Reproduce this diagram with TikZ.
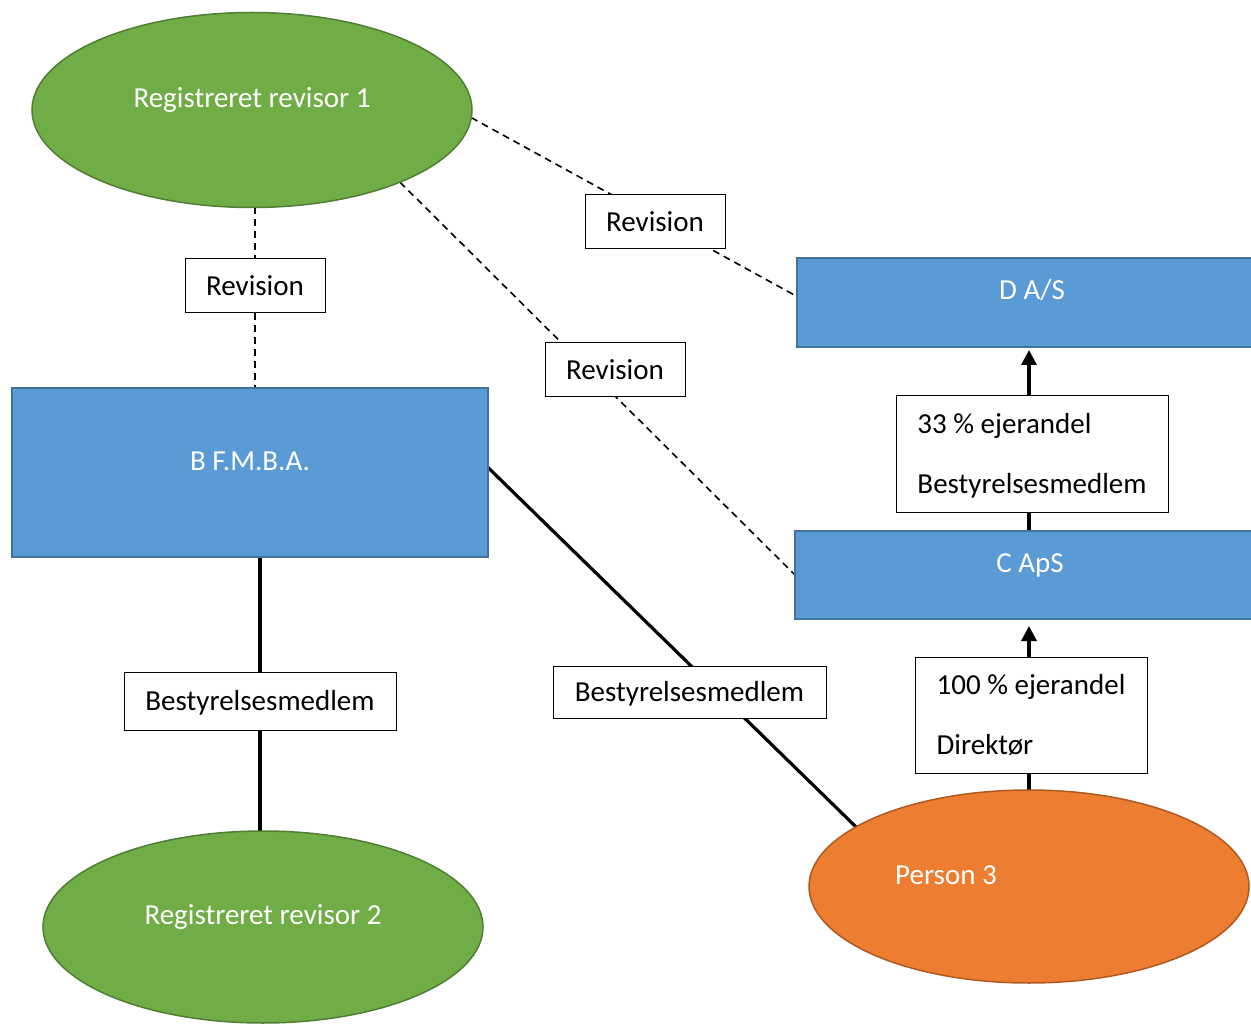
\documentclass[tikz,border=0pt]{standalone}
\usepackage{fontspec}
\setmainfont{Carlito}
\usetikzlibrary{shapes.geometric,arrows.meta}
\pgfdeclarelayer{bg}
\pgfsetlayers{bg,main}
\definecolor{gfill}{HTML}{70AD47}
\definecolor{gdraw}{HTML}{507E32}
\definecolor{bfill}{HTML}{5B9BD5}
\definecolor{bdraw}{HTML}{41719C}
\definecolor{ofill}{HTML}{ED7D31}
\definecolor{odraw}{HTML}{AE5A21}
\begin{document}
\begin{tikzpicture}[x=1pt,y=-1pt,
  base/.style={inner sep=0pt, outer sep=0pt, font=\fontsize{29pt}{35pt}\selectfont},
  shapetext/.style={text=white, text height=20pt, text depth=25pt},
  greenell/.style={base, shapetext, ellipse, draw=gdraw, fill=gfill, line width=1.5pt, minimum width=440pt},
  orangeell/.style={base, shapetext, ellipse, draw=odraw, fill=ofill, line width=1.5pt, minimum width=440pt, minimum height=193pt},
  bluebox/.style={base, shapetext, rectangle, draw=bdraw, fill=bfill, line width=1.5pt},
  labelbox/.style={base, rectangle, draw=black, fill=white, line width=1pt, text height=20pt, text depth=1pt},
  twoline/.style={labelbox, align=left, font=\fontsize{29pt}{60pt}\selectfont, text height=80pt, text depth=2pt, minimum height=116pt},
  solidline/.style={line width=3.2pt, black},
  arrowline/.style={solidline, -{Triangle[width=15pt,length=15pt]}},
  dashline/.style={line width=1.6pt, black, dash pattern=on 7pt off 5pt}
]
\useasboundingbox (0,0) rectangle (1251,1024);

% shapes
\node[greenell, minimum height=195pt] (r1) at (252,110) {Registreret revisor 1};
\node[greenell, minimum height=192pt] (r2) at (263,927) {Registreret revisor 2};
\node[orangeell] (p3) at (1029,886.5) {Person 3\hspace*{166pt}};
\node[bluebox, minimum width=476pt, minimum height=169pt] (b) at (250,472.5) {B F.M.B.A.};
\node[bluebox, minimum width=470pt, minimum height=89pt] (dd) at (1032,302.5) {D A/S};
\node[bluebox, minimum width=470pt, minimum height=88pt] (c) at (1030,575) {C ApS};

% label boxes
\node[labelbox, minimum width=140pt, minimum height=54pt] (rv1) at (255,286) {Revision};
\node[labelbox, minimum width=140pt, minimum height=54pt] (rv2) at (655,222) {Revision};
\node[labelbox, minimum width=140pt, minimum height=54pt] (rv3) at (615,370) {Revision};
\node[labelbox, minimum width=272pt, minimum height=58pt] (bl) at (260,701) {Bestyrelsesmedlem};
\node[labelbox, minimum width=273pt, minimum height=52pt] (bm) at (689.5,692) {Bestyrelsesmedlem};
\node[twoline, minimum width=272pt] (b33) at (1032,454) {33 \% ejerandel\\Bestyrelsesmedlem};
\node[twoline, minimum width=232pt] (b100) at (1031,715) {100 \% ejerandel\\Direktør};

% connectors
\begin{pgfonlayer}{bg}
  \draw[dashline] (rv1.north |- r1.south) -- (rv1.north);
  \draw[dashline] (rv1.south) -- (rv1.south |- b.north);
  \draw[dashline] (r1.-2) -- ([yshift=6pt]dd.west);
  \draw[dashline] (r1.-26) -- (c.west);
  \draw[solidline] (bl.north |- b.south) -- (bl.north);
  \draw[solidline] (bl.south) -- (bl.south |- r2.north);
  \draw[solidline] ([yshift=5pt]b.east) -- (p3.161);
  \draw[solidline] (p3.north) -- (p3.north |- b100.south);
  \draw[arrowline, shorten >=7pt] (p3.north |- b100.north) -- (p3.north |- c.south);
  \draw[solidline] (p3.north |- c.north) -- (p3.north |- b33.south);
  \draw[arrowline, shorten >=3pt] (p3.north |- b33.north) -- (p3.north |- dd.south);
\end{pgfonlayer}
\end{tikzpicture}
\end{document}
